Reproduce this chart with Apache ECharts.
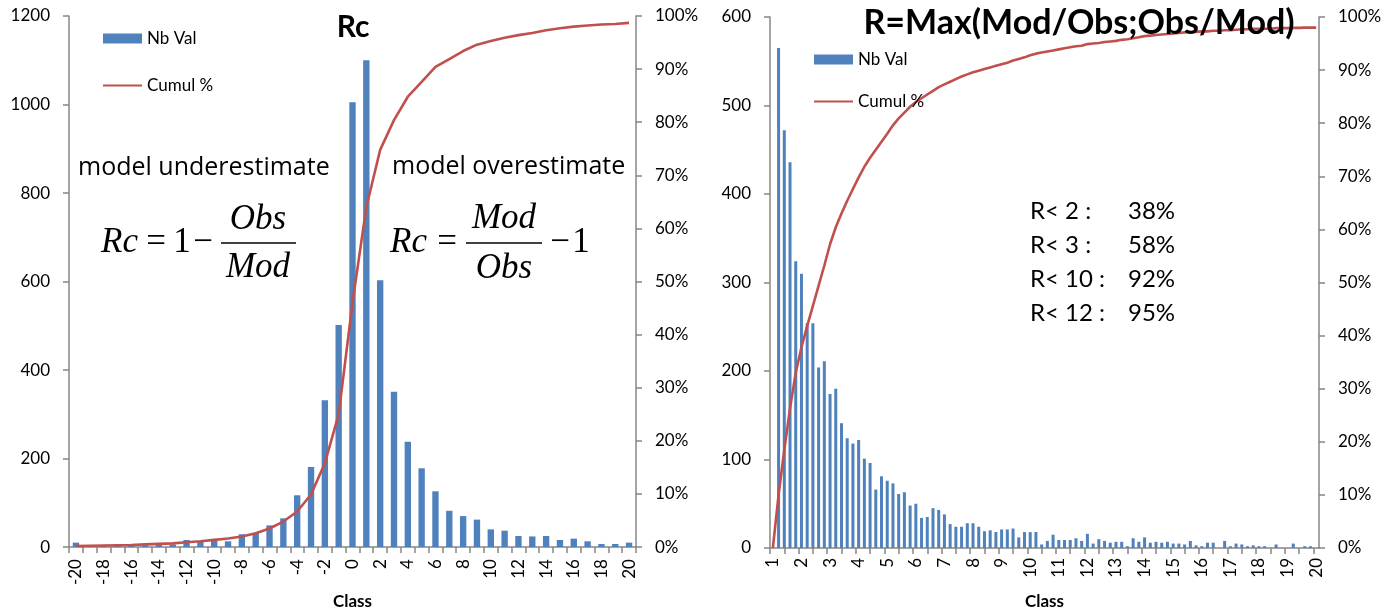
<!DOCTYPE html>
<html><head><meta charset="utf-8">
<script src="https://cdn.jsdelivr.net/npm/echarts@6/dist/echarts.min.js"></script>
<style>html,body{margin:0;padding:0;background:#fff}#c{width:1399px;height:615px}</style>
</head><body><div id="c"></div>
<script>
// ---- Left panel : Rc ----
const rcClasses = ['-20','-19','-18','-17','-16','-15','-14','-13','-12','-11','-10','-9','-8','-7','-6','-5','-4','-3','-2','-1','0','1','2','3','4','5','6','7','8','9','10','11','12','13','14','15','16','17','18','19','20'];
const rcCounts = [10,2,2,3,3,4,5,6,16,12,17,13,29,32,49,65,117,181,332,502,1005,1100,603,351,238,178,126,82,70,62,40,37,25,24,25,16,19,13,7,7,10];
const rcCumul = [0.2,0.25,0.3,0.35,0.4,0.5,0.6,0.7,0.9,1.1,1.35,1.6,2.0,2.6,3.5,4.8,6.7,9.9,15.8,25.0,46.0,64.0,74.8,80.4,84.8,87.6,90.4,91.9,93.4,94.6,95.3,95.9,96.4,96.8,97.3,97.7,98.0,98.2,98.4,98.5,98.7];

// ---- Right panel : R = Max(Mod/Obs;Obs/Mod) ----
const rClasses = [1,1.2,1.4,1.6,1.8,2,2.2,2.4,2.6,2.8,3,3.2,3.4,3.6,3.8,4,4.2,4.4,4.6,4.8,5,5.2,5.4,5.6,5.8,6,6.2,6.4,6.6,6.8,7,7.2,7.4,7.6,7.8,8,8.2,8.4,8.6,8.8,9,9.2,9.4,9.6,9.8,10,10.2,10.4,10.6,10.8,11,11.2,11.4,11.6,11.8,12,12.2,12.4,12.6,12.8,13,13.2,13.4,13.6,13.8,14,14.2,14.4,14.6,14.8,15,15.2,15.4,15.6,15.8,16,16.2,16.4,16.6,16.8,17,17.2,17.4,17.6,17.8,18,18.2,18.4,18.6,18.8,19,19.2,19.4,19.6,19.8,20];
const rCounts = [0,565,472,436,324,310,254,254,204,211,174,180,141,124,118,122,101,96,66,81,76,73,61,63,48,50,34,35,45,43,38,27,24,24,28,28,24,19,20,18,21,21,22,12,18,18,18,4,8,15,9,9,9,11,8,16,5,10,8,6,7,7,2,11,7,12,6,7,6,7,5,5,4,8,3,2,6,6,0,8,2,5,4,2,3,2,2,0,4,0,0,5,0,2,2,0];
const rCumul = [0,10,18.5,26.3,33.0,37.8,41.8,45.6,49.4,53.2,57.2,60.4,63.0,65.4,67.6,69.8,71.8,73.5,75.0,76.5,78.0,79.6,80.9,82.0,83.1,84.0,84.7,85.4,86.1,86.8,87.3,87.8,88.3,88.8,89.2,89.6,89.9,90.2,90.5,90.8,91.1,91.4,91.8,92.1,92.4,92.8,93.1,93.3,93.5,93.7,93.9,94.1,94.3,94.5,94.6,94.9,95.0,95.1,95.3,95.4,95.5,95.7,95.8,96.0,96.2,96.4,96.5,96.6,96.7,96.8,96.9,97.0,97.1,97.2,97.2,97.3,97.3,97.4,97.4,97.5,97.5,97.6,97.7,97.7,97.8,97.8,97.8,97.8,97.9,97.9,97.9,97.95,97.95,98.0,98.0,98.0];
const rTickValues = [0.9,1.4,1.9,2.4,2.9,3.4,3.9,4.4,4.9,5.4,5.9,6.4,6.9,7.4,7.9,8.4,8.9,9.4,9.9,10.4,10.9,11.4,11.9,12.4,12.9,13.4,13.9,14.4,14.9,15.4,15.9,16.4,16.9,17.4,17.9,18.4,18.9,19.4,19.9];
const rLabelValues = [1,2,3,4,5,6,7,8,9,10,11,12,13,14,15,16,17,18,19,20];
const rStats = [['R< 2 :','38%'],['R< 3 :','58%'],['R< 10 :','92%'],['R< 12 :','95%']];

const BLUE = '#4F81BD', RED = '#C0504D', AXIS = '#878787';
const FONT = 'Lato';
const axisLine = {show:true, lineStyle:{color:AXIS, width:1.5}};
const axisTick = {show:true, inside:false, length:6, lineStyle:{color:AXIS, width:1.5}};
const lab = {color:'#000', fontSize:17, fontFamily:FONT, margin:19, formatter:v => String(v)};

const chart = echarts.init(document.getElementById('c'), null, {renderer:'canvas'});

function serifText(x, y, text, size, italic, align) {
  return {type:'text', x:x, y:y, z:100, style:{text:text, fontFamily:'Liberation Serif', fontSize:size, fontStyle: italic ? 'italic':'normal', fill:'#000', align:align||'left', verticalAlign:'middle'}};
}
function fracBar(x1, x2, y) {
  return {type:'line', z:100, shape:{x1:x1, y1:y, x2:x2, y2:y}, style:{stroke:'#000', lineWidth:1.6}};
}
function sansText(x, y, text, size, bold, align, family) {
  return {type:'text', x:x, y:y, z:100, style:{text:text, fontFamily:family||FONT, fontSize:size, fontWeight: bold ? 'bold':'normal', fill:'#000', align:align||'left', verticalAlign:'middle'}};
}

const graphics = [
  sansText(353, 27, 'Rc', 30, true, 'center'),
  sansText(1079, 23, 'R=Max(Mod/Obs;Obs/Mod)', 34, true, 'center'),
  sansText(78, 168, 'model underestimate', 25, false, 'left', 'Open Sans'),
  sansText(392, 167, 'model overestimate', 25, false, 'left', 'Open Sans'),
  // left formula  Rc = 1 - Obs/Mod
  serifText(101, 243, 'Rc', 35, true),
  serifText(156, 243, '=', 35, false, 'center'),
  serifText(182, 243, '1', 35, false, 'center'),
  serifText(203, 243, '\u2212', 35, false, 'center'),
  fracBar(221, 296, 243),
  serifText(258, 220, 'Obs', 35, true, 'center'),
  serifText(258, 268, 'Mod', 35, true, 'center'),
  // right formula  Rc = Mod/Obs - 1
  serifText(390, 243, 'Rc', 35, true),
  serifText(447, 243, '=', 35, false, 'center'),
  fracBar(466, 542, 243),
  serifText(504, 219, 'Mod', 35, true, 'center'),
  serifText(504, 269, 'Obs', 35, true, 'center'),
  serifText(560, 243, '\u2212', 35, false, 'center'),
  serifText(581, 243, '1', 35, false, 'center')
];
rStats.forEach((r, k) => {
  graphics.push(sansText(1030, 211 + k*34, r[0], 24, false, 'left'));
  graphics.push(sansText(1128, 211 + k*34, r[1], 24, false, 'left'));
});

const legendData = [{name:'Nb Val', icon:'rect'}, {name:'Cumul %', itemStyle:{opacity:0}}];
const option = {
  backgroundColor:'#fff',
  animation:false,
  textStyle:{fontFamily:FONT},
  grid:[
    {left:69, right:763, top:16, bottom:64, containLabel:false},
    {left:770, right:80, top:17, bottom:64, containLabel:false}
  ],
  legend:[
    {orient:'vertical', left:97, top:25, itemWidth:39, itemHeight:10, itemGap:30, padding:5,
     textStyle:{fontSize:17, color:'#000', fontFamily:FONT}, data:legendData},
    {orient:'vertical', left:808, top:46, itemWidth:39, itemHeight:10, itemGap:25, padding:5,
     textStyle:{fontSize:17, color:'#000', fontFamily:FONT}, data:legendData}
  ],
  xAxis:[
    {type:'category', gridIndex:0, data:rcClasses, boundaryGap:true,
     axisLine:axisLine, axisTick:Object.assign({}, axisTick, {interval:0}),
     axisLabel:{color:'#000', fontSize:17, fontFamily:FONT, rotate:90, interval:1, margin:12},
     splitLine:{show:false},
     name:'Class', nameLocation:'middle', nameGap:45,
     nameTextStyle:{fontWeight:'bold', fontSize:17, color:'#000', fontFamily:FONT}},
    {type:'value', gridIndex:1, min:0.9, max:20.1,
     axisLine:axisLine,
     axisTick:Object.assign({}, axisTick, {customValues:rTickValues}),
     axisLabel:{color:'#000', fontSize:17, fontFamily:FONT, rotate:90, margin:10, customValues:rLabelValues, formatter:v => String(Math.round(v))},
     splitLine:{show:false},
     name:'Class', nameLocation:'middle', nameGap:45,
     nameTextStyle:{fontWeight:'bold', fontSize:17, color:'#000', fontFamily:FONT}}
  ],
  yAxis:[
    {type:'value', gridIndex:0, position:'left', min:0, max:1200, interval:200,
     axisLine:axisLine, axisTick:axisTick, axisLabel:lab, splitLine:{show:false}},
    {type:'value', gridIndex:0, position:'right', min:0, max:100, interval:10,
     axisLine:axisLine, axisTick:axisTick, axisLabel:Object.assign({}, lab, {formatter:'{value}%'}), splitLine:{show:false}},
    {type:'value', gridIndex:1, position:'left', min:0, max:600, interval:100,
     axisLine:axisLine, axisTick:axisTick, axisLabel:lab, splitLine:{show:false}},
    {type:'value', gridIndex:1, position:'right', min:0, max:100, interval:10,
     axisLine:axisLine, axisTick:axisTick, axisLabel:Object.assign({}, lab, {formatter:'{value}%'}), splitLine:{show:false}}
  ],
  series:[
    {name:'Nb Val', type:'bar', xAxisIndex:0, yAxisIndex:0, data:rcCounts, barWidth:'46%',
     itemStyle:{color:BLUE}},
    {name:'Cumul %', type:'line', xAxisIndex:0, yAxisIndex:1, data:rcCumul, showSymbol:false, symbol:'none',
     lineStyle:{color:RED, width:2.6}, itemStyle:{color:RED}, z:3},
    {name:'Nb Val', type:'bar', xAxisIndex:1, yAxisIndex:2, data:rClasses.map((c,i)=>[c, rCounts[i]]), barWidth:3,
     itemStyle:{color:BLUE}},
    {name:'Cumul %', type:'line', xAxisIndex:1, yAxisIndex:3, data:rClasses.map((c,i)=>[c, rCumul[i]]), showSymbol:false, symbol:'none',
     lineStyle:{color:RED, width:2.6}, itemStyle:{color:RED}, z:3}
  ],
  graphic:graphics
};
chart.setOption(option);
</script>
</body></html>
